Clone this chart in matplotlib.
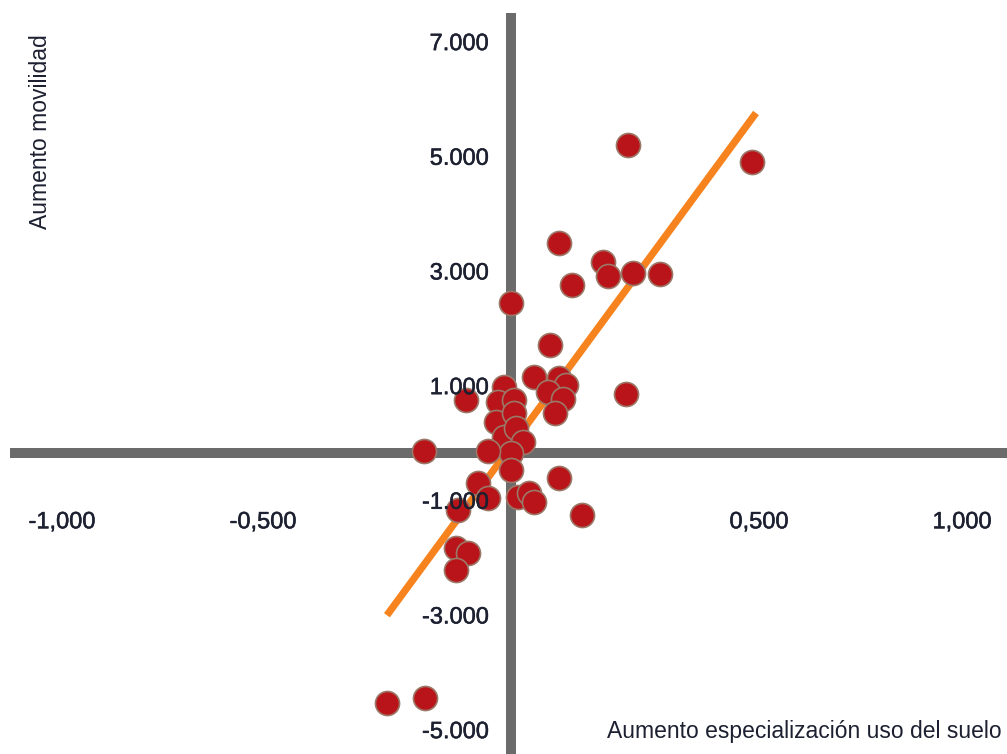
import matplotlib
matplotlib.use("Agg")
import matplotlib.pyplot as plt
import matplotlib.transforms as mtransforms
import matplotlib.patheffects as pe
from matplotlib import font_manager

# Change in land-use specialisation (x) versus change in mobility (y)
spec_change = [
    0.236, 0.486, 0.096, 0.186, 0.196, 0.246, 0.300, 0.124, 0.000, 0.078, 0.232,
    0.046, 0.096, 0.110, 0.074, 0.104, 0.088,
    -0.014, -0.026, 0.006, -0.030, 0.006, -0.014, 0.010, 0.024, 0.000, -0.046,
    0.000, -0.090, -0.176,
    -0.066, -0.046, -0.106, 0.014, 0.036, 0.046, 0.096, 0.144,
    -0.110, -0.086, -0.110, -0.250, -0.174,
]
mobility_change = [
    5.37, 5.08, 3.66, 3.33, 3.09, 3.14, 3.12, 2.93, 2.62, 1.88, 1.03,
    1.33, 1.31, 1.19, 1.06, 0.94, 0.70,
    1.15, 0.89, 0.92, 0.54, 0.70, 0.28, 0.44, 0.19, 0.00, 0.03,
    -0.30, 0.92, 0.03,
    -0.52, -0.78, -0.99, -0.77, -0.70, -0.85, -0.44, -1.08,
    -1.66, -1.74, -2.04, -4.36, -4.27,
]

# Linear trend end points
trend_x = [-0.250, 0.494]
trend_y = [-2.83, 5.93]

x_ticks = [-1.0, -0.5, 0.5, 1.0]
x_tick_labels = ["-1,000", "-0,500", "0,500", "1,000"]
y_ticks = [7, 5, 3, 1, -1, -3, -5]
y_tick_labels = ["7.000", "5.000", "3.000", "1.000", "-1.000", "-3.000", "-5.000"]

x_title = "Aumento especialización uso del suelo"
y_title = "Aumento movilidad"

installed = {f.name for f in font_manager.fontManager.ttflist}
narrow = "Liberation Sans Narrow" if "Liberation Sans Narrow" in installed else "Liberation Sans"
plt.rcParams["font.family"] = ["Liberation Sans", "DejaVu Sans"]

text_color = "#1c2030"
axis_gray = "#6b6b6b"
heavier = [pe.withStroke(linewidth=0.35, foreground=text_color)]

fig = plt.figure(figsize=(10.07, 7.54), dpi=100)
ax = fig.add_axes([0, 0, 1, 1])
ax.set_xlim(-1.03, 0.984)
ax.set_ylim(-5.25, 7.90)

for side in ("top", "right"):
    ax.spines[side].set_visible(False)
ax.spines["left"].set_position(("data", 0))
ax.spines["bottom"].set_position(("data", 0))
ax.spines["left"].set_bounds(-5.4, 7.58)
ax.spines["bottom"].set_bounds(-1.0, 1.05)
for side in ("left", "bottom"):
    ax.spines[side].set_color(axis_gray)
    ax.spines[side].set_linewidth(7.2)
    ax.spines[side].set_zorder(2.5)

ax.plot(trend_x, trend_y, color="#f7831f", linewidth=5.2, solid_capstyle="butt", zorder=2.6)
ax.scatter(spec_change, mobility_change, s=300, color="#b81419",
           edgecolors="#9c7868", linewidths=1.2, zorder=2.7)

ax.set_xticks(x_ticks)
ax.set_xticklabels(x_tick_labels)
ax.set_yticks(y_ticks)
ax.set_yticklabels(y_tick_labels)
ax.tick_params(axis="both", length=0, labelsize=17, labelcolor=text_color)
ax.tick_params(axis="x", pad=42)
ax.tick_params(axis="y", pad=16)
ax.xaxis.set_zorder(3)
ax.yaxis.set_zorder(3)

# y labels sit a little above their ticks
up = mtransforms.ScaledTranslation(0, 0.10, fig.dpi_scale_trans)
for lbl in ax.get_yticklabels():
    lbl.set_transform(lbl.get_transform() + up)
    lbl.set_path_effects(heavier)

# the outer x labels are pulled in towards the centre
xl = ax.get_xticklabels()
xl[0].set_transform(xl[0].get_transform() + mtransforms.ScaledTranslation(0.47, 0, fig.dpi_scale_trans))
xl[-1].set_transform(xl[-1].get_transform() + mtransforms.ScaledTranslation(-0.45, 0, fig.dpi_scale_trans))
for lbl in xl:
    lbl.set_path_effects(heavier)

ax.text(0.995, 0.030, x_title, transform=ax.transAxes, ha="right", va="center",
        fontsize=16.5, color=text_color, family=[narrow, "DejaVu Sans"])
ax.text(0.040, 0.825, y_title, transform=ax.transAxes, ha="center", va="center",
        rotation=90, fontsize=16.5, color=text_color, family=[narrow, "DejaVu Sans"])

fig.savefig("out.png", dpi=100, facecolor="white")
